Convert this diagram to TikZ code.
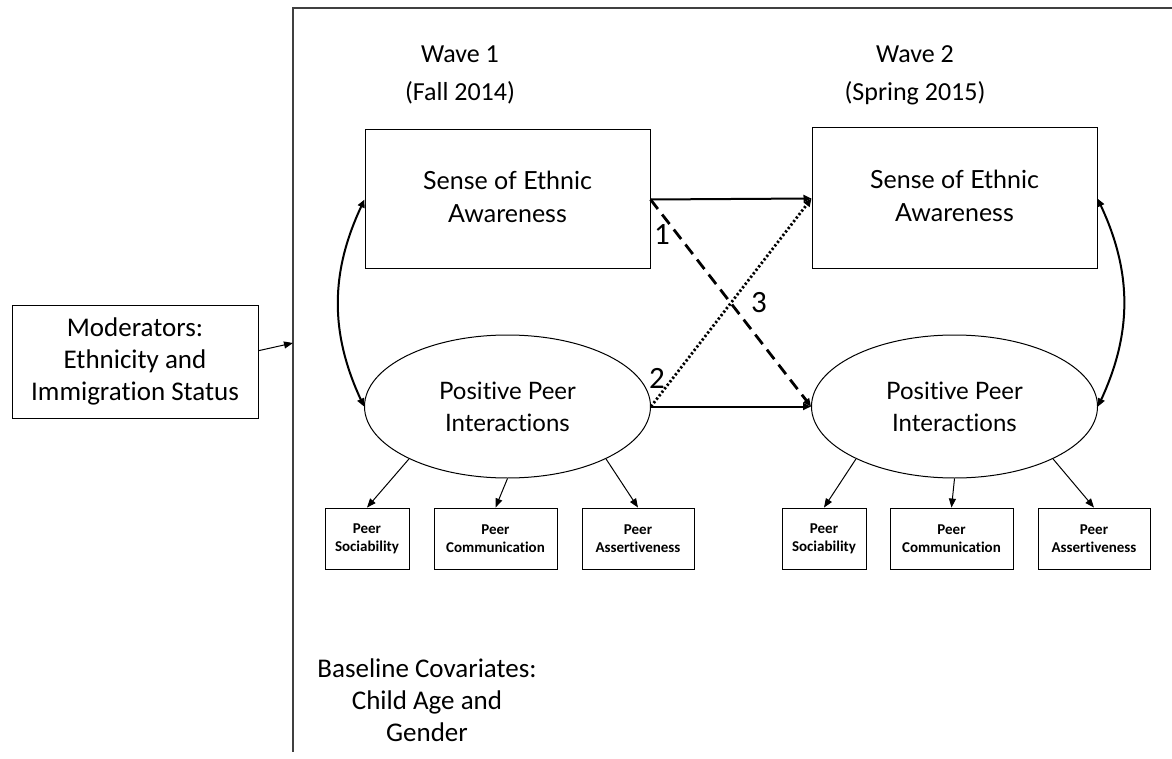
\documentclass[tikz,border=0pt]{standalone}
\usepackage{fontspec}
\setmainfont{Carlito}[Ligatures=NoCommon]
\newfontfamily\gillfont{Lato}[Ligatures=NoCommon]
\usepackage{tikz}
\usetikzlibrary{arrows.meta,shapes.geometric,positioning}
\newcommand{\twoline}[2]{\raisebox{5pt}{\begin{tabular}{@{}c@{}}#1\\#2\end{tabular}}}
\tikzset{
  >={Triangle[length=8pt,width=7pt]},
  lbox/.style={draw=black, line width=1pt, inner sep=0pt, align=center,
               font=\gillfont\fontsize{25}{33}\selectfont},
  lvar/.style={ellipse, draw=black, line width=1pt, inner sep=0pt, align=center,
               minimum width=286pt, minimum height=143pt,
               font=\gillfont\fontsize{24}{32}\selectfont},
  ind/.style={draw=black, line width=0.9pt, inner sep=0pt, align=center,
              minimum height=61pt, font=\bfseries\fontsize{15}{18}\selectfont},
  hdr/.style={align=center, font=\fontsize{26}{38}\selectfont},
  txt/.style={align=center, font=\fontsize{27}{32}\selectfont},
  num/.style={font=\fontsize{31}{34}\selectfont},
  path/.style={->, line width=2pt},
  load/.style={->, line width=1pt, >={Triangle[length=9pt,width=7pt]}},
  cov/.style={<->, line width=2pt},
}
\begin{document}
\begin{tikzpicture}[x=1pt,y=-1pt]
  \useasboundingbox (0,0) rectangle (1172,759);

  % frame
  \draw[black!75, line width=1.6pt] (1172,8) -- (293,8) -- (293,752);
  \coordinate (modin) at (293,343);

  % waves
  \node[hdr] (w1) at (460,75) {Wave 1\\(Fall 2014)};
  \node[hdr] (w2) at (915,75) {Wave 2\\(Spring 2015)};

  \node[lbox, minimum width=285pt, minimum height=139pt] (se1) at (507.5,199.5) {\twoline{Sense of Ethnic}{Awareness}};
  \node[lbox, minimum width=285pt, minimum height=141pt] (se2) at (954.5,198.5) {\twoline{Sense of Ethnic}{Awareness}};
  \node[lvar] (pp1) at (507.5,406.5) {Positive Peer\\Interactions};
  \node[lvar] (pp2) at (954.5,406.5) {Positive Peer\\Interactions};

  % indicators
  \node[ind, minimum width=84pt]  (ps1) at (367,538.5)   {Peer\\Sociability};
  \node[ind, minimum width=123pt] (pc1) at (495.5,538.5) {Peer\\Communication};
  \node[ind, minimum width=112pt] (pa1) at (638,538.5)   {Peer\\Assertiveness};
  \node[ind, minimum width=84pt]  (ps2) at (824,538.5)   {Peer\\Sociability};
  \node[ind, minimum width=123pt] (pc2) at (951.5,538.5) {Peer\\Communication};
  \node[ind, minimum width=112pt] (pa2) at (1094,538.5)  {Peer\\Assertiveness};

  \node[txt, draw=black, line width=1pt, minimum width=246pt, minimum height=113pt, inner sep=0pt]
        (mod) at (135,361.5) {Moderators:\\Ethnicity and\\Immigration Status};
  \node[txt] (base) at (427,700) {Baseline Covariates:\\Child Age and\\Gender};

  % paths
  \draw[path] (se1.east) -- (se2.west);
  \draw[path] (pp1.east) -- (pp2.west);
  \draw[path, line width=2.8pt, dash pattern=on 12pt off 7pt] (se1.east) -- (pp2.west);
  \draw[path, line width=2.8pt, dash pattern=on 2.2pt off 2.2pt] (pp1.east) -- (se2.west);
  \draw[cov] (se1.west) to[bend right=25] (pp1.west);
  \draw[cov] (se2.east) to[bend left=25] (pp2.east);
  \draw[load] (mod.5) -- (modin);

  \node[num] (n1) at (662,235) {1};
  \node[num] (n2) at (657,378) {2};
  \node[num] (n3) at (759,303) {3};

  % loadings
  \draw[load] (pp1.208) -- (ps1.north);
  \draw[load] (pp1.south) -- (pc1.north);
  \draw[load] (pp1.332) -- (pa1.north);
  \draw[load] (pp2.208) -- (ps2.north);
  \draw[load] (pp2.south) -- (pc2.north);
  \draw[load] (pp2.332) -- (pa2.north);
\end{tikzpicture}
\end{document}
